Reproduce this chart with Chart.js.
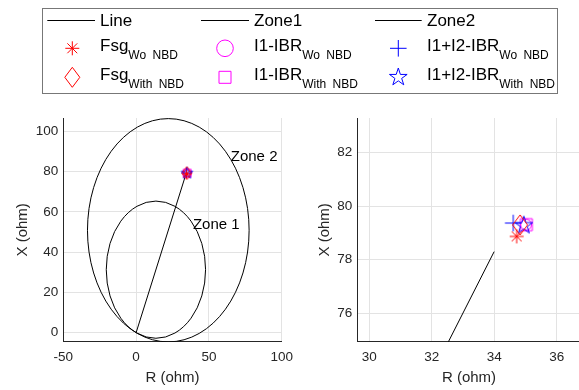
<!DOCTYPE html>
<html>
<head>
<meta charset="utf-8">
<script src="https://cdn.jsdelivr.net/npm/chart.js@4.4.1/dist/chart.umd.min.js"></script>
<style>
html, body { margin: 0; padding: 0; background: #fff; overflow: hidden; width: 579px; height: 390px; }
body { position: relative; font-family: "Liberation Sans", Arial, sans-serif; color: #000; }
canvas { position: absolute; }
.lt { position: absolute; font-size: 17px; line-height: 20px; white-space: nowrap; }
.lt sub { font-size: 12px; vertical-align: -8.3px; line-height: 0; word-spacing: 3px; }
</style>
</head>
<body>
<canvas id="legendCanvas" width="579" height="100" style="left:0;top:0"></canvas>
<canvas id="left" width="300" height="290" style="left:0;top:100px"></canvas>
<canvas id="right" width="300" height="290" style="left:300px;top:100px"></canvas>
<script>
// line impedance (R, X) from the origin
const lineR = [0, 34.0];
const lineX = [0, 78.3];

// mho zones: centre and radius in ohm
const zoneNames = ['Zone 1', 'Zone 2'];
const zoneCenterR = [13.6, 22.1];
const zoneCenterX = [31.3, 50.9];
const zoneRadius = [34.1, 55.5];
const zoneTextR = [39, 65];
const zoneTextX = [53.5, 87.3];

// fault impedance points
const seriesMain = ['Fsg', 'Fsg', 'I1-IBR', 'I1-IBR', 'I1+I2-IBR', 'I1+I2-IBR'];
const seriesSub = ['Wo NBD', 'With NBD', 'Wo NBD', 'With NBD', 'Wo NBD', 'With NBD'];
const pointR = [34.72, 34.83, 35.02, 35.03, 34.61, 34.95];
const pointX = [78.87, 79.30, 79.31, 79.31, 79.37, 79.28];
const seriesColors = ['#ff0000', '#ff0000', '#ff00ff', '#ff00ff', '#0000ff', '#0000ff'];
const seriesMarkers = ['asterisk', 'diamond', 'circle', 'square', 'plus', 'pentagram'];
const seriesOrder = [0, 1, 5, 4, 3, 2];

const lineNames = ['Line', 'Zone1', 'Zone2'];

// axes
const leftRange = { xMin: -50, xMax: 100, yMin: -4.5, yMax: 106.7 };
const rightRange = { xMin: 29.62, xMax: 36.77, yMin: 74.93, yMax: 83.3 };
const leftTicksR = [-50, 0, 50, 100];
const leftTicksX = [0, 20, 40, 60, 80, 100];
const rightTicksR = [30, 32, 34, 36];
const rightTicksX = [76, 78, 80, 82];

const axisColor = '#262626';
const gridColor = '#e3e3e3';
Chart.defaults.font.family = "'Liberation Sans', Arial, sans-serif";
Chart.defaults.color = axisColor;

function drawMarker(g, type, cx, cy, k, color, circleR) {
	g.save();
	g.strokeStyle = color;
	g.lineWidth = 1;
	g.beginPath();
	if (type === 'asterisk') {
		const r = 7 * k;
		for (let a = 0; a < 4; a++) {
			const t = a * Math.PI / 4;
			g.moveTo(cx - r * Math.cos(t), cy - r * Math.sin(t));
			g.lineTo(cx + r * Math.cos(t), cy + r * Math.sin(t));
		}
	} else if (type === 'diamond') {
		const hw = 7.5 * k, hh = 10 * k;
		g.moveTo(cx, cy - hh); g.lineTo(cx + hw, cy); g.lineTo(cx, cy + hh); g.lineTo(cx - hw, cy); g.closePath();
	} else if (type === 'circle') {
		g.arc(cx, cy, (circleR || 8.3) * k, 0, Math.PI * 2);
	} else if (type === 'square') {
		const h = 6 * k;
		g.rect(cx - h, cy - h, 2 * h, 2 * h);
	} else if (type === 'plus') {
		const r = 8.3 * k;
		g.moveTo(cx - r, cy); g.lineTo(cx + r, cy);
		g.moveTo(cx, cy - r); g.lineTo(cx, cy + r);
	} else if (type === 'pentagram') {
		const R = 9.3 * k, ri = R * 0.382;
		for (let i = 0; i < 10; i++) {
			const t = -Math.PI / 2 + i * Math.PI / 5;
			const rr = i % 2 ? ri : R;
			const px = cx + rr * Math.cos(t), py = cy + rr * Math.sin(t);
			if (i === 0) g.moveTo(px, py); else g.lineTo(px, py);
		}
		g.closePath();
	}
	g.stroke();
	g.restore();
}

function markerImage(type, k, color) {
	const c = document.createElement('canvas');
	const s = Math.ceil(22 * k) + 2;
	c.width = s; c.height = s;
	drawMarker(c.getContext('2d'), type, s / 2, s / 2, k, color, 5.5);
	return c;
}

function markerDatasets(k) {
	return seriesMain.map((m, i) => ({
		label: m + ' ' + seriesSub[i],
		data: [{ x: pointR[i], y: pointX[i] }],
		pointStyle: markerImage(seriesMarkers[i], k, seriesColors[i]),
		pointRadius: 5,
		borderColor: seriesColors[i],
		backgroundColor: 'rgba(0,0,0,0)',
		order: seriesOrder[i],
	}));
}

const zonePlugin = {
	id: 'zones',
	beforeDatasetsDraw(chart) {
		const { ctx, chartArea: a, scales: { x, y } } = chart;
		ctx.save();
		ctx.beginPath();
		ctx.rect(a.left, a.top, a.right - a.left, a.bottom - a.top);
		ctx.clip();
		ctx.strokeStyle = '#000';
		ctx.lineWidth = 1;
		zoneRadius.forEach((r, i) => {
			const cx = x.getPixelForValue(zoneCenterR[i]);
			const cy = y.getPixelForValue(zoneCenterX[i]);
			const rx = Math.abs(x.getPixelForValue(zoneCenterR[i] + r) - cx);
			const ry = Math.abs(y.getPixelForValue(zoneCenterX[i] + r) - cy);
			ctx.beginPath();
			ctx.ellipse(cx, cy, rx, ry, 0, 0, Math.PI * 2);
			ctx.stroke();
		});
		ctx.fillStyle = '#000';
		ctx.font = "15px 'Liberation Sans', Arial, sans-serif";
		ctx.textAlign = 'left';
		ctx.textBaseline = 'middle';
		zoneNames.forEach((n, i) => {
			ctx.fillText(n, x.getPixelForValue(zoneTextR[i]), y.getPixelForValue(zoneTextX[i]));
		});
		ctx.restore();
	},
};

function makeChart(id, range, ticksR, ticksX, k, padRight, yTitlePad) {
	const datasets = [{
		label: 'Line',
		data: lineR.map((r, i) => ({ x: r, y: lineX[i] })),
		showLine: true,
		borderColor: '#000',
		borderWidth: 1,
		pointRadius: 0,
		order: 100,
	}].concat(markerDatasets(k));

	return new Chart(document.getElementById(id), {
		type: 'scatter',
		data: { datasets: datasets },
		options: {
			responsive: false,
			animation: false,
			devicePixelRatio: 1,
			events: [],
			layout: { padding: { top: 18, right: padRight, left: 0, bottom: 0 } },
			plugins: { legend: { display: false }, tooltip: { enabled: false } },
			scales: {
				x: {
					type: 'linear',
					position: 'bottom',
					min: range.xMin,
					max: range.xMax,
					afterBuildTicks: (s) => { s.ticks = ticksR.map((v) => ({ value: v })); },
					afterFit: (s) => { s.height = 48.3; },
					grid: { color: gridColor, drawTicks: false },
					border: { color: axisColor },
					ticks: { padding: 7, font: { size: 13.5 }, color: axisColor, maxRotation: 0, autoSkip: false },
					title: { display: true, text: 'R (ohm)', font: { size: 15 }, color: axisColor, padding: { top: 0, bottom: 2.7 } },
				},
				y: {
					type: 'linear',
					position: 'left',
					min: range.yMin,
					max: range.yMax,
					afterBuildTicks: (s) => { s.ticks = ticksX.map((v) => ({ value: v })); },
					afterFit: (s) => { s.width = id === 'left' ? 63.3 : 57.3; },
					grid: { color: gridColor, drawTicks: false },
					border: { color: axisColor },
					ticks: { padding: 5, font: { size: 13.5 }, color: axisColor, autoSkip: false },
					title: { display: true, text: 'X (ohm)', font: { size: 15 }, color: axisColor, padding: { top: yTitlePad, bottom: 0 } },
				},
			},
		},
		plugins: [zonePlugin],
	});
}

makeChart('left', leftRange, leftTicksR, leftTicksX, 0.65, 13.3, 13.7);
makeChart('right', rightRange, rightTicksR, rightTicksX, 1, 19.3, 16);

// legend
const legendMarkerX = [72.3, 225, 398.3];
const legendLineX = [[47.3, 95], [201, 249], [375, 421.7]];
const legendTextX = [100, 254, 427];
const legendRowY = [20.5, 48.3, 77.3];
const legendBase = [26.7, 51.7, 81];
const legendGrid = [[0, 2, 4], [1, 3, 5]];

const lg = document.getElementById('legendCanvas').getContext('2d');
lg.strokeStyle = '#777';
lg.lineWidth = 1;
lg.strokeRect(42.5, 8.5, 515, 85);
lg.strokeStyle = '#000';

function addText(main, sub, x, base) {
	const d = document.createElement('div');
	d.className = 'lt';
	d.style.left = x + 'px';
	d.style.top = (base - 15.9) + 'px';
	d.textContent = main;
	if (sub) {
		const s = document.createElement('sub');
		s.textContent = sub;
		d.appendChild(s);
	}
	document.body.appendChild(d);
}

lineNames.forEach((n, c) => {
	lg.beginPath();
	lg.moveTo(legendLineX[c][0], legendRowY[0]);
	lg.lineTo(legendLineX[c][1], legendRowY[0]);
	lg.stroke();
	addText(n, null, legendTextX[c], legendBase[0]);
});

legendGrid.forEach((row, r) => {
	row.forEach((i, c) => {
		drawMarker(lg, seriesMarkers[i], legendMarkerX[c], legendRowY[r + 1], 1, seriesColors[i]);
		addText(seriesMain[i], seriesSub[i], legendTextX[c], legendBase[r + 1]);
	});
});
</script>
</body>
</html>
